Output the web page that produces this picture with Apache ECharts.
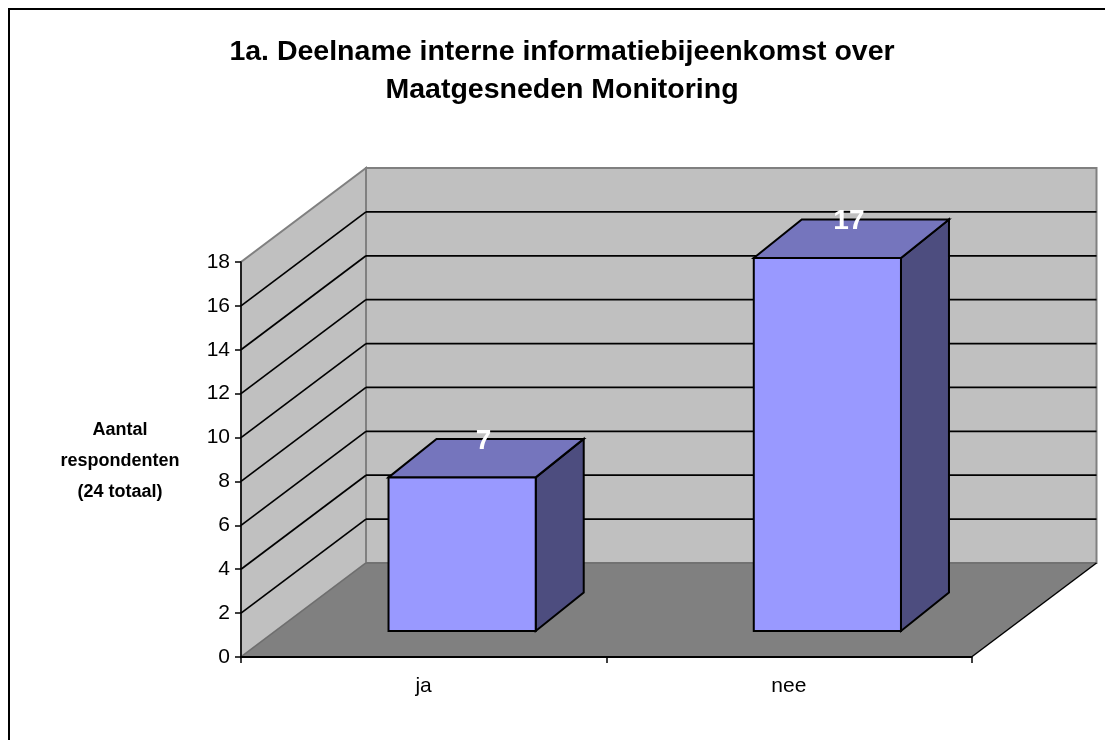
<!DOCTYPE html>
<html>
<head>
<meta charset="utf-8">
<style>html,body{margin:0;padding:0;background:#fff}#c{width:1105px;height:740px}</style>
<script src="https://cdn.jsdelivr.net/npm/echarts@6/dist/echarts.min.js"></script>
</head>
<body>
<div id="c"></div>
<script>
var titleText = '1a. Deelname interne informatiebijeenkomst over\nMaatgesneden Monitoring';
var yAxisTitle = 'Aantal\nrespondenten\n(24 totaal)';
var categories = ['ja', 'nee'];
var values = [7, 17];
var wallTicks = [2, 4, 6, 8, 10, 12, 14, 16];
var yMax = 18;
var yStep = 2;

var WALL_DX = 125, WALL_DY = -94;
var BAR_DX = 48, BAR_DY = -38.5;
var BAR_SHIFT_X = 38.5, BAR_SHIFT_Y = -26;
var BAR_RATIO = 0.403;
var LABEL_SHIFT_X = -2.5;

var chart = echarts.init(document.getElementById('c'), null, {renderer: 'canvas'});

function poly(points, fill, stroke, width) {
  return {type: 'polygon', shape: {points: points},
    style: {fill: fill, stroke: stroke, lineWidth: width, lineJoin: 'miter'}};
}
function seg(a, b, color, width) {
  return {type: 'line', shape: {x1: a[0], y1: a[1], x2: b[0], y2: b[1]},
    style: {stroke: color, lineWidth: width, fill: null}};
}

function renderWalls(params, api) {
  var o = api.coord([0, 0]);
  var t = api.coord([0, yMax]);
  var bw = api.size([1, 0])[0];
  var x0 = o[0] - bw / 2, y0 = o[1], yT = t[1];
  var x1 = x0 + bw * categories.length;
  var d = [WALL_DX, WALL_DY];
  var kids = [
    poly([[x0, y0], [x0 + d[0], y0 + d[1]], [x0 + d[0], yT + d[1]], [x0, yT]], '#c0c0c0', '#808080', 2),
    poly([[x0 + d[0], yT + d[1]], [x1 + d[0], yT + d[1]], [x1 + d[0], y0 + d[1]], [x0 + d[0], y0 + d[1]]], '#c0c0c0', '#808080', 2),
    poly([[x0, y0], [x0 + d[0], y0 + d[1]], [x1 + d[0], y0 + d[1]], [x1, y0]], '#808080', null, 0)
  ];
  kids.push(seg([x0, y0], [x0 + d[0], y0 + d[1]], '#6e6e6e', 1.2));
  kids.push(seg([x0 + d[0], y0 + d[1]], [x1 + d[0], y0 + d[1]], '#6e6e6e', 1.5));
  kids.push(seg([x1 + d[0], y0 + d[1]], [x1, y0], '#000', 1.5));
  wallTicks.forEach(function (v) {
    var y = api.coord([0, v])[1];
    kids.push(seg([x0, y], [x0 + d[0], y + d[1]], '#000', 1.7));
    kids.push(seg([x0 + d[0], y + d[1]], [x1 + d[0], y + d[1]], '#000', 1.7));
  });
  return {type: 'group', children: kids};
}

function renderBar(params, api) {
  var c = api.value(0), v = api.value(1);
  var top = api.coord([c, v]);
  var base = api.coord([c, 0]);
  var w = api.size([1, 0])[0] * BAR_RATIO;
  var l = top[0] + BAR_SHIFT_X - w / 2, r = l + w;
  var yt = top[1] + BAR_SHIFT_Y, yb = base[1] + BAR_SHIFT_Y;
  var dx = BAR_DX, dy = BAR_DY;
  return {type: 'group', children: [
    poly([[r, yt], [r + dx, yt + dy], [r + dx, yb + dy], [r, yb]], '#4d4d7f', '#000', 2),
    poly([[l, yt], [l + dx, yt + dy], [r + dx, yt + dy], [r, yt]], '#7575bd', '#000', 2),
    poly([[l, yt], [r, yt], [r, yb], [l, yb]], '#9999ff', '#000', 2),
    {type: 'text', style: {
      x: (l + r) / 2 + dx / 2 + LABEL_SHIFT_X, y: yt + dy + 2, text: String(v),
      fill: '#fff', font: 'bold 28px "Liberation Sans", Arial, sans-serif',
      textAlign: 'center', textVerticalAlign: 'middle'
    }}
  ]};
}

var barData = categories.map(function (c, i) { return [i, values[i]]; });

chart.setOption({
  animation: false,
  backgroundColor: '#fff',
  graphic: [{
    type: 'rect', left: 8, top: 8, z: -1, silent: true,
    shape: {width: 1120, height: 760},
    style: {fill: '#fff', stroke: '#000', lineWidth: 2}
  }],
  title: [{
    text: titleText, left: 557, top: 28, textAlign: 'center',
    textStyle: {fontFamily: '"Liberation Sans", Arial, sans-serif', fontWeight: 'bold',
      fontSize: 28.5, lineHeight: 38, color: '#000'}
  }, {
    text: yAxisTitle, left: 115, top: 410, textAlign: 'center',
    textStyle: {fontFamily: '"Liberation Sans", Arial, sans-serif', fontWeight: 'bold',
      fontSize: 18, lineHeight: 31, color: '#000'}
  }],
  grid: {left: 241, top: 262, width: 730.5, height: 395, containLabel: false, outerBoundsMode: 'none'},
  xAxis: {
    type: 'category', data: categories, z: 10,
    axisLine: {lineStyle: {color: '#000', width: 2}},
    axisTick: {show: true, length: 6, lineStyle: {color: '#000', width: 1.5}},
    axisLabel: {color: '#000', fontFamily: '"Liberation Sans", Arial, sans-serif', fontSize: 21, margin: 19},
    splitLine: {show: false}
  },
  yAxis: {
    type: 'value', min: 0, max: yMax, interval: yStep, z: 10,
    axisLine: {show: true, lineStyle: {color: '#000', width: 1.5}},
    axisTick: {show: true, length: 6, lineStyle: {color: '#000', width: 1.5}},
    axisLabel: {color: '#000', fontFamily: '"Liberation Sans", Arial, sans-serif', fontSize: 21, margin: 11},
    splitLine: {show: false}
  },
  series: [
    {type: 'custom', name: 'walls', z: 1, clip: false, silent: true,
      data: [[0, 0]], encode: {x: 0, y: 1}, renderItem: renderWalls},
    {type: 'custom', name: 'Aantal', z: 3, clip: false, silent: true,
      data: barData, encode: {x: 0, y: 1}, renderItem: renderBar}
  ]
});
</script>
</body>
</html>
